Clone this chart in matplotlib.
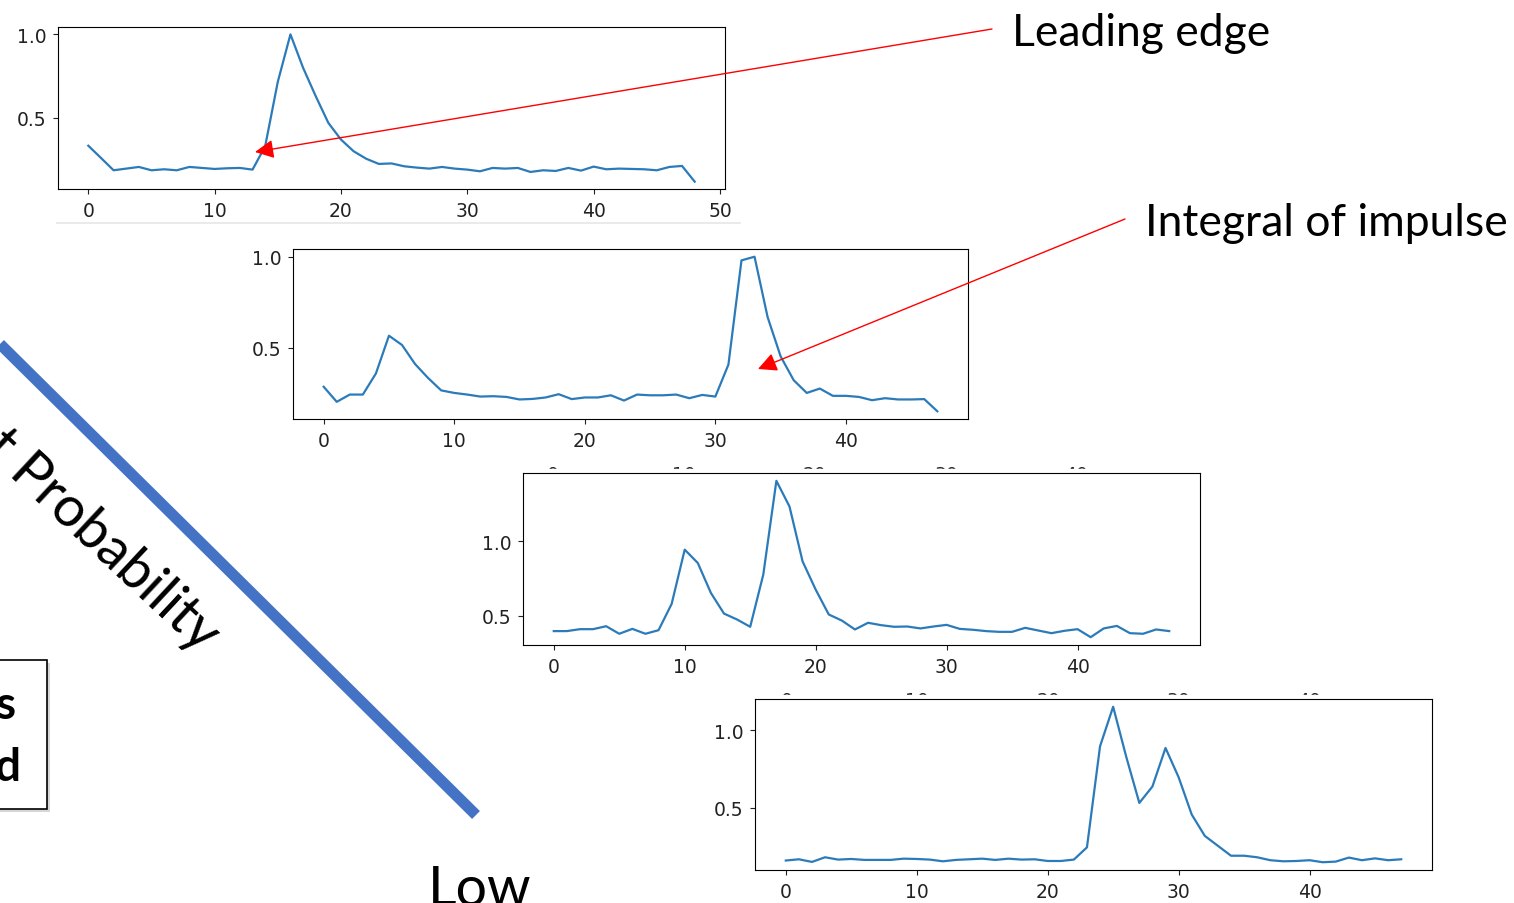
import matplotlib
matplotlib.use('Agg')
import matplotlib.pyplot as plt
import numpy as np
from matplotlib.patches import FancyArrowPatch, Rectangle
from matplotlib.lines import Line2D

W, H = 1514, 904

# signal traces
sig1 = [0.333, 0.26, 0.186, 0.196, 0.206, 0.186, 0.192, 0.186, 0.206, 0.2,
        0.194, 0.198, 0.2, 0.19, 0.33, 0.716, 1.0, 0.80, 0.63, 0.47,
        0.37, 0.30, 0.255, 0.224, 0.227, 0.21, 0.202, 0.196, 0.206, 0.196,
        0.19, 0.18, 0.2, 0.196, 0.2, 0.176, 0.186, 0.182, 0.2, 0.184,
        0.208, 0.192, 0.196, 0.194, 0.192, 0.186, 0.206, 0.212, 0.118]
sig2 = [0.284, 0.201, 0.241, 0.241, 0.357, 0.565, 0.514, 0.409, 0.332, 0.264,
        0.25, 0.241, 0.23, 0.232, 0.228, 0.214, 0.217, 0.225, 0.243, 0.216,
        0.225, 0.225, 0.237, 0.208, 0.241, 0.237, 0.237, 0.241, 0.221, 0.239,
        0.23, 0.406, 0.98, 1.0, 0.668, 0.451, 0.32, 0.25, 0.274, 0.234,
        0.234, 0.228, 0.21, 0.221, 0.214, 0.214, 0.216, 0.149]
sig3 = [0.395, 0.395, 0.408, 0.408, 0.428, 0.377, 0.41, 0.377, 0.401, 0.578,
        0.944, 0.854, 0.652, 0.513, 0.473, 0.424, 0.776, 1.408, 1.235, 0.865,
        0.675, 0.507, 0.466, 0.406, 0.451, 0.435, 0.424, 0.426, 0.413, 0.426,
        0.437, 0.41, 0.404, 0.395, 0.39, 0.39, 0.417, 0.399, 0.381, 0.397,
        0.408, 0.354, 0.413, 0.43, 0.381, 0.377, 0.406, 0.395]
sig4 = [0.16, 0.168, 0.151, 0.181, 0.166, 0.17, 0.164, 0.164, 0.164, 0.172,
        0.17, 0.166, 0.155, 0.164, 0.168, 0.172, 0.164, 0.172, 0.166, 0.168,
        0.157, 0.157, 0.166, 0.245, 0.898, 1.153, 0.83, 0.532, 0.638, 0.887,
        0.698, 0.457, 0.319, 0.255, 0.191, 0.191, 0.181, 0.162, 0.155, 0.157,
        0.162, 0.149, 0.153, 0.179, 0.162, 0.174, 0.162, 0.168]

xticks1 = [0, 10, 20, 30, 40, 50]
xticks = [0, 10, 20, 30, 40]
yticks = [0.5, 1.0]


def fx(x):
    return x / W


def fy(y):
    return 1 - y / H


def panel(fig, box, values, xt):
    l, t, r, b = box
    ax = fig.add_axes([fx(l), fy(b), (r - l) / W, (b - t) / H])
    ax.plot(np.arange(len(values)), values, color='#2b7bba', lw=1.6)
    ax.set_xticks(xt)
    ax.set_yticks(yticks)
    ax.tick_params(labelsize=13.5, pad=5, colors='#222222')
    return ax


fig = plt.figure(figsize=(W / 100, H / 100), dpi=100)

# hidden panels' tick labels peeking above panels 3 and 4
for xs, ytop in [([553, 684, 815, 946, 1076], 466), ([787, 917, 1048, 1178, 1309], 692)]:
    for xpos, lab in zip(xs, xticks):
        fig.text(fx(xpos), fy(ytop), str(lab), ha='center', va='top', fontsize=13.5,
                 color='#222222', zorder=-2)
    fig.add_artist(Rectangle((fx(xs[0] - 40), fy(ytop + 30)), 720 / W, 26.5 / H,
                             transform=fig.transFigure, color='white', zorder=-1))

panel(fig, (58, 28, 725, 190), sig1, xticks1)
panel(fig, (293, 250, 968, 420), sig2, xticks)
panel(fig, (523, 474, 1200, 646), sig3, xticks)
panel(fig, (755, 700, 1432, 871), sig4, xticks)

# faint rule under the first panel
fig.add_artist(Line2D([fx(57), fx(740)], [fy(224), fy(224)], color='#e6e6e6', lw=1.2))

# diagonal blue bar
fig.add_artist(Line2D([fx(0), fx(476)], [fy(345), fy(816)], color='#4472C4', lw=8,
                      solid_capstyle='butt'))

fig.text(fx(211), fy(643), 'st Probability', rotation=-43, rotation_mode='anchor',
         ha='right', va='center', fontsize=40, family='Lato')

# boxed label cut by the left edge
fig.add_artist(Rectangle((fx(-20), fy(813)), 70 / W, 149 / H, transform=fig.transFigure,
                         facecolor='#bbbbbb', edgecolor='none', alpha=0.6))
fig.add_artist(Rectangle((fx(-20), fy(810)), 67 / W, 149 / H, transform=fig.transFigure,
                         facecolor='white', edgecolor='black', lw=1.2))
fig.text(fx(16), fy(706), 's', ha='right', va='center', fontsize=33, weight='bold', family='Lato')
fig.text(fx(20), fy(768), 'd', ha='right', va='center', fontsize=33, weight='bold', family='Lato')

fig.text(fx(428), fy(906), 'Low', ha='left', va='baseline', fontsize=40, family='Lato')

fig.text(fx(1012), fy(34), 'Leading edge', ha='left', va='center', fontsize=32, family='Lato')
fig.text(fx(1145), fy(223), 'Integral of impulse', ha='left', va='center', fontsize=32, family='Lato')

for start, end in [((992, 30), (255, 153)), ((1125, 220), (758, 370))]:
    arr = FancyArrowPatch((fx(start[0]), fy(start[1])), (fx(end[0]), fy(end[1])),
                          transform=fig.transFigure, arrowstyle='-|>,head_length=0.6,head_width=0.3',
                          mutation_scale=19, color='red', lw=1, shrinkA=0, shrinkB=0, zorder=10)
    fig.add_artist(arr)

fig.savefig('out.png', dpi=100)
